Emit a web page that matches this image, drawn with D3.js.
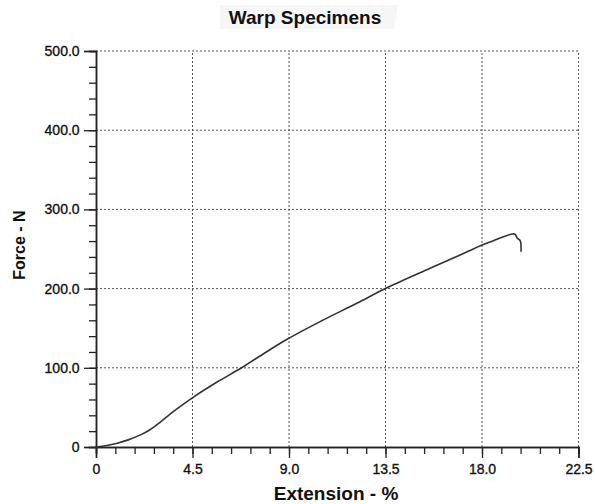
<!DOCTYPE html>
<html>
<head>
<meta charset="utf-8">
<script src="https://cdn.jsdelivr.net/npm/d3@7"></script>
<style>
  body { margin: 0; background: #fff; }
  svg text { font-family: "Liberation Sans", Arial, sans-serif; fill: #111; }
</style>
</head>
<body>
<div id="chart"></div>
<script>
// extension (%) and force (N)
const extension = [0, 0.5, 1.0, 1.5, 2.05, 2.5, 2.83, 3.6, 4.46, 5.63, 6.79, 7.96, 8.97, 10.5, 12.16, 13.52, 15.58, 16.98, 17.9, 18.53, 19.0, 19.43, 19.54, 19.65, 19.78, 19.82];
const force     = [0, 2, 4.8, 9, 15, 21.5, 27.8, 44.6, 61.5, 81.7, 100, 120.3, 137, 159, 181.4, 200.4, 225.6, 242.4, 253.8, 260.5, 265.5, 269, 268.6, 263.5, 260.5, 246.6];

const xTicks = [0, 4.5, 9.0, 13.5, 18.0, 22.5];
const xTickLabels = ["0", "4.5", "9.0", "13.5", "18.0", "22.5"];
const yTicks = [0, 100, 200, 300, 400, 500];
const yTickLabels = ["0", "100.0", "200.0", "300.0", "400.0", "500.0"];

const W = 595, H = 504;
const m = { left: 96, right: 16.5, top: 51, bottom: 57 };

const svg = d3.select("#chart").append("svg")
  .attr("width", W).attr("height", H);

const x = d3.scaleLinear().domain([0, 22.5]).range([m.left, W - m.right]);
const y = d3.scaleLinear().domain([0, 500]).range([H - m.bottom, m.top]);

// faint box behind title (scan artefact)
svg.append("path")
  .attr("d", "M220,5 L398,5 L394,29 L220,29 Z")
  .attr("fill", "#f6f6f6");

svg.append("text")
  .attr("x", 305).attr("y", 24)
  .attr("text-anchor", "middle")
  .attr("font-size", 19).attr("font-weight", "bold")
  .text("Warp Specimens");

// dotted grid
const grid = svg.append("g").attr("stroke", "#555").attr("stroke-width", 1)
  .attr("stroke-dasharray", "2,2");
grid.selectAll("line.gx").data(xTicks.slice(1)).join("line")
  .attr("x1", d => x(d)).attr("x2", d => x(d))
  .attr("y1", y(0)).attr("y2", y(500));
grid.selectAll("line.gy").data(yTicks.slice(1)).join("line")
  .attr("y1", d => y(d)).attr("y2", d => y(d))
  .attr("x1", x(0)).attr("x2", x(22.5));

// axes
const xMinor = d3.range(0, 22.5 + 0.001, 0.9);
const yMinor = d3.range(0, 500 + 0.001, 20);

const xAxis = svg.append("g")
  .attr("transform", `translate(0,${y(0)})`)
  .call(d3.axisBottom(x).tickValues(xMinor).tickSize(7).tickFormat(""));
xAxis.call(g => g.append("g").call(d3.axisBottom(x).tickValues(xTicks).tickSize(11)
    .tickFormat((d, i) => xTickLabels[i])));

const yAxis = svg.append("g")
  .attr("transform", `translate(${x(0)},0)`)
  .call(d3.axisLeft(y).tickValues(yMinor).tickSize(7).tickFormat(""));
yAxis.call(g => g.append("g").call(d3.axisLeft(y).tickValues(yTicks).tickSize(12)
    .tickFormat((d, i) => yTickLabels[i])));

svg.selectAll(".domain").attr("stroke", "#222").attr("stroke-width", 1.5);
svg.selectAll(".tick line").attr("stroke", "#222").attr("stroke-width", 1.3);
svg.selectAll(".tick text")
  .attr("font-size", 14)
  .attr("fill", "#111")
  .attr("stroke", "#111").attr("stroke-width", 0.35)
  .style("font-family", "'Liberation Sans', Arial, sans-serif");
xAxis.selectAll(".tick text").attr("dy", "0.9em");
yAxis.selectAll(".tick text").attr("dx", "-0.1em");

// curve
svg.append("path")
  .datum(extension.map((d, i) => [d, force[i]]))
  .attr("fill", "none")
  .attr("stroke", "#333")
  .attr("stroke-width", 1.6)
  .attr("d", d3.line().x(d => x(d[0])).y(d => y(d[1])).curve(d3.curveCatmullRom.alpha(0.5)));

// axis titles
svg.append("text")
  .attr("x", 336).attr("y", 500)
  .attr("text-anchor", "middle")
  .attr("font-size", 19).attr("font-weight", "bold")
  .text("Extension - %");

svg.append("text")
  .attr("transform", "translate(25,245) rotate(-90)")
  .attr("text-anchor", "middle")
  .attr("font-size", 16).attr("font-weight", "bold")
  .text("Force - N");
</script>
</body>
</html>
